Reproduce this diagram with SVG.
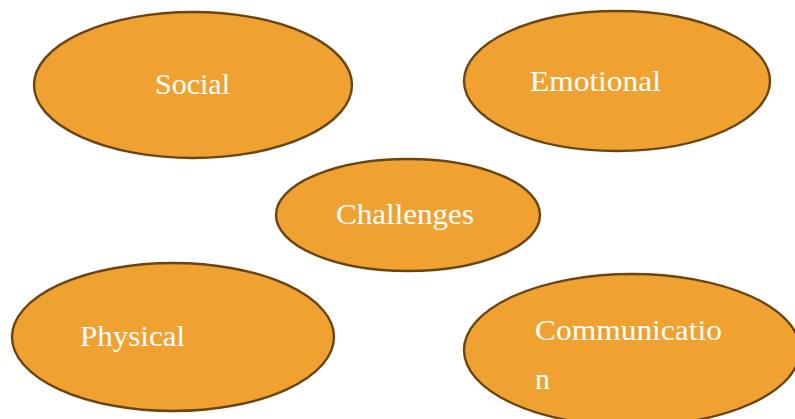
<svg xmlns="http://www.w3.org/2000/svg" width="795" height="419" viewBox="0 0 795 419">
<style>
.n ellipse{fill:#EFA231;stroke:#6A4512;stroke-width:2.4}
.n text{fill:#FFFFFF;font-family:"Liberation Serif","DejaVu Serif",serif;font-size:30px}
</style>
<rect width="795" height="419" fill="#FFFFFF"/>
<g id="connectors"></g>
<g id="social" class="n"><ellipse cx="193" cy="85" rx="159" ry="73"/><text x="155" y="94" textLength="75" lengthAdjust="spacingAndGlyphs">Social</text></g>
<g id="emotional" class="n"><ellipse cx="617" cy="81" rx="153" ry="70"/><text x="530" y="91" textLength="131" lengthAdjust="spacingAndGlyphs">Emotional</text></g>
<g id="challenges" class="n"><ellipse cx="408" cy="215" rx="132" ry="56"/><text x="336" y="224" textLength="138" lengthAdjust="spacingAndGlyphs">Challenges</text></g>
<g id="physical" class="n"><ellipse cx="173" cy="337" rx="161" ry="74"/><text x="80" y="346" textLength="105" lengthAdjust="spacingAndGlyphs">Physical</text></g>
<g id="communication" class="n"><ellipse cx="632" cy="350" rx="168" ry="76"/><text x="535" y="340" textLength="187" lengthAdjust="spacingAndGlyphs">Communicatio</text><text x="535" y="389" textLength="15" lengthAdjust="spacingAndGlyphs">n</text></g>
</svg>
